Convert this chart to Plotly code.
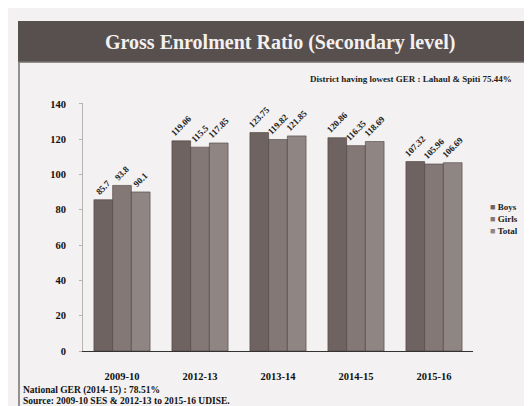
import plotly.graph_objects as go

years = ["2009-10", "2012-13", "2013-14", "2014-15", "2015-16"]
boys = [85.7, 119.06, 123.75, 120.86, 107.32]
girls = [93.8, 115.5, 119.82, 116.35, 105.96]
total = [90.1, 117.85, 121.85, 118.69, 106.69]
y_ticks = [0, 20, 40, 60, 80, 100, 120, 140]
series_names = ["Boys", "Girls", "Total"]
series_colors = ["#6f6361", "#837876", "#8f8583"]

W, H = 532, 406
L, R, T, B = 75, 465, 95, 343

def px(x):
    return (x - L) / (R - L)

def py(y):
    return (B - y) / (B - T)

font_serif = "Liberation Serif"

def bar(name, vals, color):
    return go.Bar(
        name=name, x=years, y=vals,
        marker=dict(color=color, line=dict(width=0.6, color="#4a403e")),
        text=[f"<b>{v:g}</b>" for v in vals], textposition="outside", textangle=-45,
        cliponaxis=False, constraintext="none",
        textfont=dict(family=font_serif, size=9, color="#222222"),
    )

fig = go.Figure([bar(n, v, c) for n, v, c in zip(series_names, [boys, girls, total], series_colors)])

fig.update_layout(
    width=W, height=H,
    margin=dict(l=L, r=W - R, t=T, b=H - B),
    paper_bgcolor="#f3f1f1", plot_bgcolor="#f3f1f1",
    barmode="group", bargap=0.28, bargroupgap=0.0,
    font=dict(family=font_serif, size=9, color="#111111"),
    showlegend=False,
)
fig.update_yaxes(range=[0, 140.5], tickvals=y_ticks, ticktext=[f"<b>{t}</b>" for t in y_ticks],
                 showgrid=False, zeroline=False,
                 showline=True, linecolor="#b8b2b2", linewidth=1,
                 ticks="outside", ticklen=3, tickcolor="#b8b2b2",
                 tickfont=dict(family=font_serif, size=10.5, color="#111111"),
                 ticklabelstandoff=11)
fig.update_xaxes(type="category", showgrid=False, showline=True, linecolor="#333333", linewidth=1.2,
                 tickvals=years, ticktext=[f"<b>{y}</b>" for y in years],
                 tickfont=dict(family=font_serif, size=10.5, color="#111111"),
                 ticklabelstandoff=15)

# title banner
fig.add_shape(type="rect", xref="paper", yref="paper",
              x0=px(10), x1=px(532), y0=py(54), y1=py(13),
              fillcolor="#57504e", line=dict(width=0), layer="below")
# frame
fig.add_shape(type="rect", xref="paper", yref="paper",
              x0=px(11), x1=px(531), y0=py(403), y1=py(54),
              fillcolor="rgba(0,0,0,0)", line=dict(width=1.5, color="#777070"))

fig.add_annotation(xref="paper", yref="paper", x=px(272), y=py(34),
                   text="<b>Gross Enrolment Ratio (Secondary level)</b>", showarrow=False,
                   font=dict(family=font_serif, size=20, color="#f4f0f0"),
                   xanchor="center", yanchor="middle")
fig.add_annotation(xref="paper", yref="paper", x=px(506), y=py(71),
                   text="<b>District having lowest GER : Lahaul & Spiti 75.44%</b>", showarrow=False,
                   font=dict(family=font_serif, size=9, color="#222222"),
                   xanchor="right", yanchor="middle")
fig.add_annotation(xref="paper", yref="paper", x=px(13), y=py(382),
                   text="<b>National GER (2014-15) : 78.51%</b>", showarrow=False,
                   font=dict(family=font_serif, size=9.5, color="#111111"),
                   xanchor="left", yanchor="middle")
fig.add_annotation(xref="paper", yref="paper", x=px(13), y=py(393),
                   text="<b>Source: 2009-10 SES & 2012-13 to 2015-16 UDISE.</b>", showarrow=False,
                   font=dict(family=font_serif, size=9.5, color="#111111"),
                   xanchor="left", yanchor="middle")

# legend as small-square labels
for i, (n, c) in enumerate(zip(series_names, series_colors)):
    fig.add_annotation(xref="paper", yref="paper", x=px(480), y=py(199 + 12 * i),
                       text=f"<span style='color:{c}'>■</span> <b>{n}</b>", showarrow=False,
                       font=dict(family=font_serif, size=9, color="#222222"),
                       xanchor="left", yanchor="middle")

fig.write_html("out.html")
